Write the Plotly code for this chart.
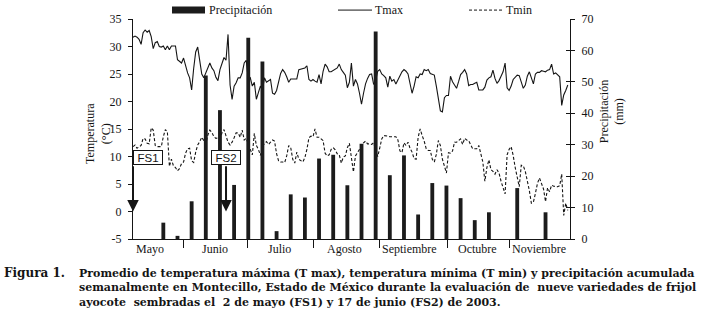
import plotly.graph_objects as go

# ---------------- data ----------------
days = list(range(1, 217))  # day 1 = 2 May 2003

tmax = [
    31.7, 31.9, 31.7, 31.3, 30.4, 32.5, 33.0, 32.6, 32.9, 31.8,
    29.6, 30.7, 30.9, 30.0, 29.9, 30.1, 29.4, 30.1, 29.4, 30.1,
    30.1, 30.1, 27.6, 27.3, 27.0, 27.9, 26.4, 25.2, 24.3, 22.1,
    26.0, 29.0, 29.9, 27.5, 25.0, 24.3, 25.2, 26.4, 27.0, 26.1,
    25.6, 24.4, 23.8, 25.8, 27.0, 28.0, 27.5, 32.2, 23.0, 20.4,
    22.8, 23.4, 24.3, 24.3, 25.2, 27.0, 27.5, 24.0, 24.3, 22.8,
    23.5, 20.4, 21.6, 22.8, 22.0, 24.3, 23.5, 23.7, 24.0, 21.5,
    21.3, 22.0, 23.5, 25.1, 25.8, 25.3, 24.5, 23.5, 24.1, 24.1,
    24.1, 24.1, 25.8, 25.9, 25.9, 26.1, 26.5, 24.0, 23.7, 24.0,
    23.7, 23.5, 24.9, 23.2, 25.5, 26.8, 26.3, 25.4, 25.4, 25.6,
    25.8, 26.1, 26.8, 25.8, 25.3, 24.8, 22.5, 23.5, 27.0, 22.8,
    24.0, 23.2, 21.5, 19.5, 21.5, 23.2, 24.2, 24.9, 25.0, 23.1,
    23.8, 25.5, 25.8, 25.0, 24.7, 24.3, 22.6, 24.6, 23.7, 24.0,
    23.2, 24.0, 24.5, 25.4, 25.8, 25.5, 25.0, 23.5, 21.5, 22.8,
    24.5, 24.3, 25.0, 24.9, 25.8, 25.6, 25.8, 25.1, 25.0, 24.8,
    22.8, 20.5, 18.3, 18.1, 20.7, 21.1, 21.1, 24.6, 23.6, 23.0,
    22.4, 23.6, 24.9, 25.3, 25.8, 25.0, 22.9, 23.1, 23.1, 23.3,
    23.5, 22.1, 22.1, 22.1, 22.6, 23.9, 24.3, 24.5, 25.7, 24.2,
    23.3, 23.8, 24.6, 25.4, 27.0, 22.5, 22.0, 22.8, 24.0, 24.5,
    24.8, 24.7, 23.5, 22.4, 23.0, 24.6, 25.4, 24.2, 23.2, 25.0,
    25.3, 25.3, 25.6, 25.5, 25.4, 25.7, 25.8, 26.8, 25.0, 25.2,
    24.8, 24.5, 19.3, 21.2, 22.0, 23.0,
]

tmin = [
    11.8, 12.1, 11.5, 11.8, 12.0, 13.3, 13.2, 12.4, 12.3, 15.2,
    14.8, 12.0, 11.8, 11.8, 11.8, 13.6, 14.9, 14.5, 8.2, 9.5,
    8.3, 8.0, 7.4, 7.8, 8.7, 9.0, 10.6, 11.4, 11.5, 9.2,
    8.9, 10.8, 12.1, 12.7, 13.5, 12.9, 12.3, 13.9, 14.8, 14.4,
    13.6, 13.3, 13.4, 13.2, 14.3, 14.9, 13.9, 12.6, 12.1, 12.6,
    13.4, 14.3, 14.3, 13.5, 14.8, 13.0, 13.3, 12.2, 11.0, 10.3,
    14.2, 12.0, 11.3, 10.2, 11.7, 12.4, 12.7, 12.2, 12.6, 13.0,
    12.8, 10.5, 9.2, 9.0, 9.0, 8.9, 10.1, 12.0, 11.6, 9.5,
    8.8, 10.8, 9.5, 9.2, 9.0, 9.8, 11.3, 13.4, 13.7, 13.6,
    15.0, 13.5, 13.5, 13.2, 12.9, 10.6, 10.1, 10.3, 11.3, 11.6,
    11.2, 10.5, 10.3, 8.8, 9.9, 10.1, 11.6, 12.4, 9.8, 7.2,
    10.1, 10.7, 11.3, 11.9, 12.5, 12.8, 12.3, 12.3, 12.2, 12.5,
    11.0, 10.0, 11.5, 13.2, 13.8, 13.8, 13.7, 13.6, 13.6, 13.7,
    13.6, 13.0, 11.0, 10.7, 12.5, 12.0, 12.6, 11.5, 10.8, 9.6,
    9.5, 13.5, 15.0, 13.8, 12.8, 11.4, 11.1, 11.1, 9.5, 9.0,
    10.4, 12.9, 12.0, 9.5, 8.0, 7.0, 10.7, 10.6, 11.0, 12.6,
    12.6, 12.9, 13.2, 12.2, 13.3, 13.0, 12.9, 12.1, 11.4, 11.4,
    11.4, 12.0, 10.3, 9.0, 5.5, 8.0, 9.4, 7.6, 7.3, 6.8,
    7.6, 7.0, 5.5, 4.2, 3.2, 10.3, 11.3, 11.8, 10.2, 8.0,
    5.9, 4.5, 8.4, 8.3, 7.3, 5.6, 3.8, 1.5, 1.7, 3.3,
    5.1, 6.1, 4.9, 4.1, 1.8, 4.3, 3.6, 4.8, 4.6, 4.6,
    4.5, 4.7, 6.8, -0.7, 1.5, 0.2,
]

precip_days = list(range(16, 206, 7))
precip_mm = [
    5.2, 1.0, 12.0, 52.0, 41.0, 17.2, 64.0, 56.5, 2.5, 14.2,
    13.2, 25.6, 26.8, 17.1, 30.3, 66.0, 20.3, 26.6, 7.8, 17.8,
    17.0, 13.0, 6.0, 8.5, 0.0, 16.2, 0.0, 8.5,
]

month_names = ["Mayo", "Junio", "Julio", "Agosto", "Septiembre", "Octubre", "Noviembre"]
month_centers = [9.2, 41.6, 73.4, 105.6, 137.5, 171.5, 201.6]
month_dividers = [25.8, 57.4, 90.1, 122.8, 156.4, 187.1]

temp_ticks = [-5, 0, 5, 10, 15, 20, 25, 30, 35]
temp_ticktext = ["-5", "0", "5", "10", "15", "20", "25", "30", "35"]
precip_ticks = [0, 10, 20, 30, 40, 50, 60, 70]
precip_ticktext = ["0", "10", "20", "30", "40", "50", "60", "70"]

sow_days = [1, 47]
sow_labels = ["FS1", "FS2"]

caption_head = "Figura 1."
caption_lines = [
    "Promedio de temperatura máxima (T max), temperatura mínima (T min) y precipitación acumulada",
    "semanalmente en Montecillo, Estado de México durante la evaluación de  nueve variedades de frijol",
    "ayocote  sembradas el  2 de mayo (FS1) y 17 de junio (FS2) de 2003.",
]

# ---------------- layout geometry ----------------
W, H = 703, 325
ML, MR, MT, MB = 133, 133, 17, 86
PW = W - ML - MR
PH = H - MT - MB
XR = [1, 217.1]


def pxx(x):
    return (x - ML) / PW


def pxy(y):
    return (H - MB - y) / PH


def day_at(x):
    return XR[0] + (x - ML) / PW * (XR[1] - XR[0])


SERIF = "Liberation Serif, Times New Roman, serif"
INK = "#151515"

fig = go.Figure()
fig.add_trace(go.Scatter(x=days, y=tmax, mode="lines", name="Tmax",
                         line=dict(color=INK, width=1.1), yaxis="y"))
fig.add_trace(go.Scatter(x=days, y=tmin, mode="lines", name="Tmin",
                         line=dict(color=INK, width=1.1, dash="3px,2px"), yaxis="y"))
fig.add_trace(go.Bar(x=precip_days, y=precip_mm, name="Precipitación", width=1.9,
                     marker=dict(color="#1c1c1c", line=dict(width=0)), yaxis="y2"))
fig.add_trace(go.Scatter(x=[precip_days[0]], y=[0], mode="markers", marker=dict(opacity=0),
                         hoverinfo="skip", yaxis="y3", showlegend=False))

axis_font = dict(family=SERIF, size=12, color=INK)
fig.update_layout(
    width=W, height=H, autosize=False,
    margin=dict(l=ML, r=MR, t=MT, b=MB, pad=0),
    paper_bgcolor="white", plot_bgcolor="white",
    showlegend=False,
    xaxis=dict(range=XR, tickvals=month_dividers, showticklabels=False,
               ticks="outside", ticklen=8, tickwidth=1, tickcolor=INK,
               showline=True, linecolor=INK, linewidth=1,
               showgrid=False, zeroline=False),
    yaxis=dict(range=[-5, 35], tickvals=temp_ticks, ticktext=temp_ticktext,
               ticks="outside", ticklen=4, tickwidth=1, tickcolor=INK,
               tickfont=axis_font, showline=True, linecolor=INK, linewidth=1,
               showgrid=False, zeroline=False, ticklabelstandoff=4),
    yaxis2=dict(range=[0, 70], tickvals=precip_ticks, ticktext=precip_ticktext,
                overlaying="y", side="right",
                ticks="outside", ticklen=4, tickwidth=1, tickcolor=INK,
                tickfont=axis_font, showline=True, linecolor=INK, linewidth=1,
                showgrid=False, zeroline=False, ticklabelstandoff=4),
    yaxis3=dict(range=[0, 70], tickvals=precip_ticks, overlaying="y", side="right",
                ticks="inside", ticklen=4, tickwidth=1, tickcolor=INK,
                showticklabels=False, showline=False, showgrid=False, zeroline=False),
)

ann = []
# month labels
for name, c in zip(month_names, month_centers):
    ann.append(dict(x=c, y=pxy(249), xref="x", yref="paper", text=name, showarrow=False,
                    xanchor="center", yanchor="middle", font=axis_font))

# axis titles
ann.append(dict(x=pxx(98), y=pxy(133), xref="paper", yref="paper",
                text="Temperatura<br>(°C)", textangle=-90, showarrow=False,
                xanchor="center", yanchor="middle", font=axis_font))
ann.append(dict(x=pxx(612), y=pxy(111), xref="paper", yref="paper",
                text="Precipitación<br>(mm)", textangle=-90, showarrow=False,
                xanchor="center", yanchor="middle", font=axis_font))

# legend (drawn by hand to match the reference layout)
shapes = [
    dict(type="rect", xref="paper", yref="paper", x0=pxx(172), x1=pxx(205),
         y0=pxy(11.5), y1=pxy(4.5), fillcolor="#1c1c1c", line=dict(width=0)),
    dict(type="line", xref="paper", yref="paper", x0=pxx(338), x1=pxx(372),
         y0=pxy(8), y1=pxy(8), line=dict(color=INK, width=1)),
    dict(type="line", xref="paper", yref="paper", x0=pxx(469), x1=pxx(503),
         y0=pxy(8), y1=pxy(8), line=dict(color=INK, width=1, dash="3px,2px")),
]
for label, x0 in [("Precipitación", 207), ("Tmax", 373), ("Tmin", 504)]:
    ann.append(dict(x=pxx(x0), y=pxy(8), xref="paper", yref="paper", text=label,
                    showarrow=False, xanchor="left", yanchor="middle", font=axis_font))

# sowing date markers
box_offsets = [day_at(148) - day_at(133), 0.0]
for d, lab, off in zip(sow_days, sow_labels, box_offsets):
    ann.append(dict(x=d, y=0, xref="x", yref="y", ax=d, ay=8.5, axref="x", ayref="y",
                    text="", showarrow=True, arrowhead=2, arrowsize=1.15, arrowwidth=2,
                    arrowcolor=INK, standoff=0, startstandoff=0))
    ann.append(dict(x=d + off, y=9.8, xref="x", yref="y", text=lab, showarrow=False,
                    xanchor="center", yanchor="middle", bgcolor="white",
                    bordercolor=INK, borderwidth=1, borderpad=0, width=28, height=13,
                    font=dict(family="Liberation Sans, Arial, sans-serif", size=11.5, color=INK)))

# caption
cap_font = dict(family="DejaVu Serif, serif", size=11, color=INK)
ann.append(dict(x=pxx(2), y=pxy(273), xref="paper", yref="paper",
                text="<b>" + caption_head + "</b>", showarrow=False,
                xanchor="left", yanchor="middle", font=dict(family="DejaVu Serif, serif",
                                                            size=12, color=INK)))
ann.append(dict(x=pxx(77), y=pxy(288), xref="paper", yref="paper",
                text="<br>".join("<b>" + s + "</b>" for s in caption_lines), showarrow=False,
                xanchor="left", yanchor="middle", align="left", font=cap_font))

fig.update_layout(annotations=ann, shapes=shapes)
fig.write_html("out.html", config={"displayModeBar": False},
               post_script="document.body.style.margin='0';document.body.style.overflow='hidden';")
